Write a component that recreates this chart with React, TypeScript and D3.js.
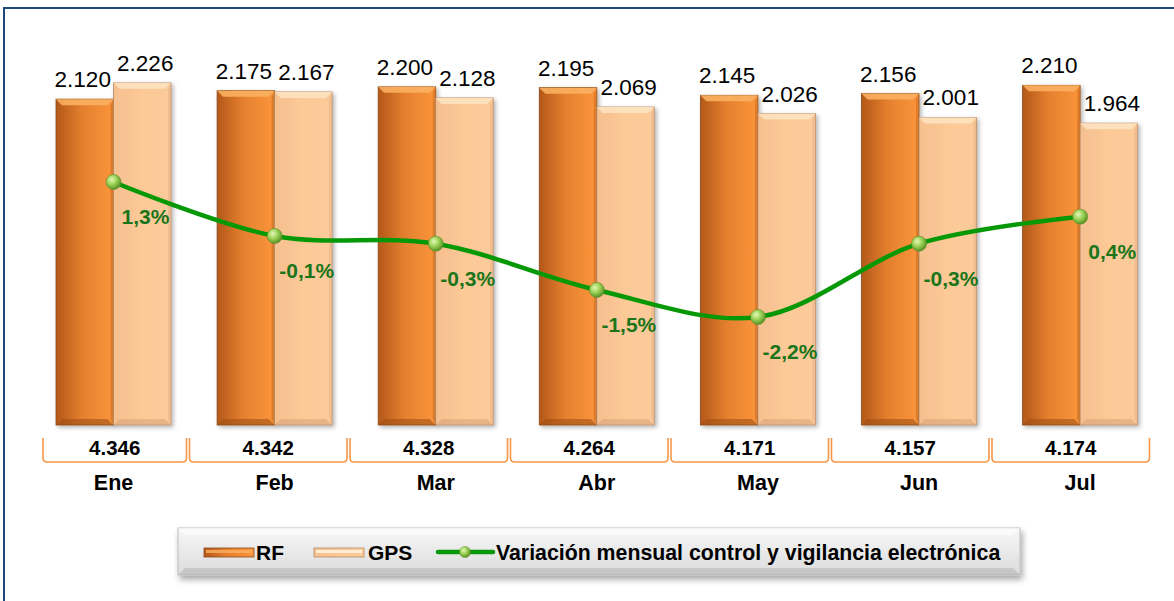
import React from 'react';
import * as d3 from 'd3';

const months = ['Ene', 'Feb', 'Mar', 'Abr', 'May', 'Jun', 'Jul'];
const rfValues = [2.120, 2.175, 2.200, 2.195, 2.145, 2.156, 2.210];
const gpsValues = [2.226, 2.167, 2.128, 2.069, 2.026, 2.001, 1.964];
const totals = ['4.346', '4.342', '4.328', '4.264', '4.171', '4.157', '4.174'];
const variation = [1.3, -0.1, -0.3, -1.5, -2.2, -0.3, 0.4];
const seriesNames = ['RF', 'GPS'];
const lineName = 'Variación mensual control y vigilancia electrónica';

const W = 1174;
const H = 601;
const FONT = 'Arial, "Liberation Sans", sans-serif';
const BASE = 425;

const fmt = (v: number) => v.toFixed(3);
const fmtPct = (v: number) => v.toFixed(1).replace('.', ',') + '%';

export default function App() {
  const x = d3.scaleBand().domain(months).range([33, 1160.7]).padding(0);
  const xs = d3.scaleBand().domain(seriesNames).range([23, 138]).padding(0);
  const y = d3.scaleLinear().domain([0, 2.5]).range([BASE, BASE - 2.5 * 153.7]);
  const y2 = d3.scaleLinear().domain([-3, 3]).range([347.8, 116.4]);
  const xt = d3.scaleBand().domain(months).range([27.5, 1151]).padding(0);

  const pts: [number, number][] = variation.map((v, i) => [
    (x(months[i]) as number) + x.bandwidth() / 2,
    y2(v),
  ]);
  const line = d3.line().curve(d3.curveCatmullRom.alpha(0.5));

  const bevel = 6;
  const bar = (bx: number, bw: number, val: number, key: string, s: string) => {
    const top = y(val);
    const h = BASE - top;
    const nudge = s === 'RF' ? -2 : 3;
    return (
      <g key={key}>
        <rect x={bx} y={top} width={bw} height={h} fill={`url(#grad-${s})`}
          stroke={s === 'RF' ? '#8a4a17' : '#b58a66'} strokeWidth={0.8} filter="url(#shadow)" />
        <polygon points={`${bx},${top} ${bx + bw},${top} ${bx + bw - bevel},${top + bevel} ${bx + bevel},${top + bevel}`}
          fill={s === 'RF' ? '#fbb060' : '#fde2c0'} opacity={0.9} />
        <polygon points={`${bx},${BASE} ${bx + bw},${BASE} ${bx + bw - bevel},${BASE - bevel} ${bx + bevel},${BASE - bevel}`}
          fill={s === 'RF' ? '#9a4d12' : '#d7a27a'} opacity={0.55} />
        <polygon points={`${bx + bw},${top} ${bx + bw},${BASE} ${bx + bw - 3},${BASE - bevel} ${bx + bw - 3},${top + bevel}`}
          fill={s === 'RF' ? '#c8681e' : '#e5b085'} opacity={0.5} />
        <text x={bx + bw / 2 + nudge} y={top - 12} textAnchor="middle" fontSize={22.5} fontFamily={FONT} fill="#000">
          {fmt(val)}
        </text>
      </g>
    );
  };

  // legend layout
  const lgY = 552;

  return (
    <svg width={W} height={H} style={{ position: 'absolute', left: 0, top: 0, background: '#fff' }}>
      <defs>
        <linearGradient id="grad-RF" x1="0" x2="1" y1="0" y2="0">
          <stop offset="0" stopColor="#b4581a" />
          <stop offset="0.45" stopColor="#e47f2e" />
          <stop offset="1" stopColor="#fb963c" />
        </linearGradient>
        <linearGradient id="grad-GPS" x1="0" x2="1" y1="0" y2="0">
          <stop offset="0" stopColor="#f6bf8f" />
          <stop offset="0.5" stopColor="#fcc997" />
          <stop offset="1" stopColor="#fccb9a" />
        </linearGradient>
        <radialGradient id="ball" cx="0.38" cy="0.35" r="0.7">
          <stop offset="0" stopColor="#e4f7b8" />
          <stop offset="0.45" stopColor="#9fd45a" />
          <stop offset="1" stopColor="#4f8a1e" />
        </radialGradient>
        <linearGradient id="legendGrad" x1="0" x2="0" y1="0" y2="1">
          <stop offset="0" stopColor="#f7f7f7" />
          <stop offset="1" stopColor="#dcdcdc" />
        </linearGradient>
        <filter id="shadow" x="-20%" y="-20%" width="150%" height="150%">
          <feDropShadow dx="2" dy="2" stdDeviation="2" floodColor="#000" floodOpacity="0.3" />
        </filter>
        <filter id="lgShadow" x="-10%" y="-30%" width="120%" height="180%">
          <feDropShadow dx="2" dy="4" stdDeviation="3" floodColor="#000" floodOpacity="0.35" />
        </filter>
      </defs>

      {/* chart border */}
      <path d={`M4,${H} L4,8 L${W},8`} fill="none" stroke="#1f497d" strokeWidth={2} />

      {/* bars */}
      {months.map((m, i) => {
        const gx = x(m) as number;
        return (
          <g key={m}>
            {bar(gx + (xs('RF') as number), xs.bandwidth(), rfValues[i], m + 'rf', 'RF')}
            {bar(gx + (xs('GPS') as number), xs.bandwidth(), gpsValues[i], m + 'gps', 'GPS')}
          </g>
        );
      })}

      {/* variation line */}
      <path d={line(pts) as string} fill="none" stroke="#079807" strokeWidth={4.5} strokeLinecap="round" />
      {pts.map(([px, py], i) => (
        <g key={'p' + i}>
          <circle cx={px} cy={py} r={7.5} fill="url(#ball)" stroke="#5d8f2a" strokeWidth={0.6} />
          <text x={px + 32} y={py + 42} textAnchor="middle" fontSize={21} fontWeight="bold"
            fontFamily={FONT} fill="#1a751a">
            {fmtPct(variation[i])}
          </text>
        </g>
      ))}

      {/* data table */}
      {months.map((m, i) => {
        const x0 = Math.max(43, xt(m) as number) + (i === 0 ? 0 : 1.5);
        const x1 = (xt(m) as number) + xt.bandwidth() - 1.5;
        const ty = 438;
        const by = 462;
        return (
          <g key={'t' + m}>
            <path
              d={`M${x0},${ty} L${x0},${by - 4} Q${x0},${by} ${x0 + 4},${by} L${x1 - 4},${by} Q${x1},${by} ${x1},${by - 4} L${x1},${ty}`}
              fill="none" stroke="#f79646" strokeWidth={1.6} />
            <text x={(x0 + x1) / 2} y={455} textAnchor="middle" fontSize={20.5} fontWeight="bold"
              fontFamily={FONT} fill="#000">
              {totals[i]}
            </text>
            <text x={(x(m) as number) + x.bandwidth() / 2} y={490} textAnchor="middle" fontSize={21.5}
              fontWeight="bold" fontFamily={FONT} fill="#000">
              {m}
            </text>
          </g>
        );
      })}

      {/* legend */}
      <g>
        <rect x={178} y={528} width={842} height={47} fill="url(#legendGrad)" stroke="#bdbdbd"
          strokeWidth={1} filter="url(#lgShadow)" />
        <polygon points="178,528 1020,528 1013,535 185,535" fill="#ffffff" opacity={0.6} />
        <polygon points="178,575 1020,575 1013,568 185,568" fill="#9a9a9a" opacity={0.35} />
        <rect x={204} y={548} width={50} height={9} fill="url(#grad-RF)" stroke="#8a4a17" strokeWidth={0.8} />
        <rect x={206} y={550} width={46} height={3} fill="#fbb060" opacity={0.8} />
        <text x={256} y={lgY + 8} fontSize={21} fontWeight="bold" fontFamily={FONT}>RF</text>
        <rect x={314} y={548} width={50} height={9} fill="url(#grad-GPS)" stroke="#b58a66" strokeWidth={0.8} />
        <rect x={316} y={550} width={46} height={3} fill="#fff1dc" opacity={0.9} />
        <text x={368} y={lgY + 8} fontSize={21} fontWeight="bold" fontFamily={FONT}>GPS</text>
        <line x1={438} x2={493} y1={lgY} y2={lgY} stroke="#079807" strokeWidth={4.5} strokeLinecap="round" />
        <circle cx={465} cy={lgY} r={5.5} fill="url(#ball)" stroke="#5d8f2a" strokeWidth={0.5} />
        <text x={496} y={lgY + 8} fontSize={21.3} fontWeight="bold" fontFamily={FONT}>{lineName}</text>
      </g>
    </svg>
  );
}
